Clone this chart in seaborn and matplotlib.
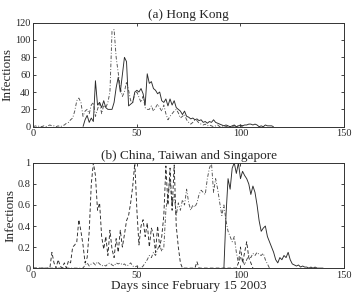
import numpy as np
import pandas as pd
import matplotlib
matplotlib.use("Agg")
import matplotlib.pyplot as plt
import seaborn as sns

# (a) Hong Kong, daily infections (solid line starts on day 24, dash-dot on day 0)
hk_solid_start = 24
hk_solid = [0, 8, 13, 5, 10, 6, 53, 25, 28, 22, 30, 22, 20, 20, 20, 28, 45, 57, 40, 60,
            80, 75, 24, 26, 28, 40, 42, 40, 44, 38, 25, 61, 50, 52, 44, 42, 38, 40, 30, 28,
            32, 24, 32, 25, 30, 22, 20, 18, 14, 18, 12, 11, 9, 10, 8, 9, 7, 8, 5, 6,
            4, 6, 5, 8, 5, 4, 3, 2, 1, 2, 1, 0, 1, 2, 0, 1, 2, 1, 2, 2,
            3, 3, 2, 3, 2, 0, 1, 0, 2, 1, 1, 1, 0]
hk_dashdot = [0, 1, 0, 1, 0, 1, 0, 1, 2, 1, 1, 0, 1, 0, 1, 2, 4, 5, 8, 10,
              18, 30, 33, 28, 12, 18, 20, 15, 25, 28, 12, 20, 28, 15, 25, 22, 28, 40, 110, 112,
              80, 62, 45, 35, 40, 52, 42, 30, 28, 38, 40, 34, 28, 35, 22, 20, 20, 24, 18, 22,
              26, 22, 18, 25, 15, 8, 12, 15, 18, 20, 16, 10, 12, 14, 8, 5, 3, 5, 8, 7,
              4, 3, 2, 3, 1, 2, 1, 0, 1, 2, 0, 1, 0, 0, 1, 0, 0, 1, 0, 1,
              0, 1, 0]

# (b) China, Taiwan and Singapore, normalised infections (all start on day 0)
cts_dashed = [0, 0, 0, 0, 0, 0, 0, 0, 0, 0.15, 0.05, 0, 0.08, 0.02, 0, 0.05, 0, 0.07, 0.05, 0.2,
              0.22, 0.25, 0.46, 0.35, 0.22, 0.05, 0.1, 0.35, 0.8, 1.0, 0.88, 0.55, 0.62, 0.3, 0.18, 0.3,
              0.12, 0.36, 0.18, 0.1, 0.28, 0.15, 0.36, 0.2, 0.32, 0.45, 0.5, 0.62, 0.78, 1.0, 0.55, 0.22,
              0.4, 0.46, 0.3, 0.43, 0.2, 0.38, 0.32, 0.15, 0.4, 0.2, 0.3, 0.5, 0.97, 0.6, 0.95, 0.55,
              0.98, 0.4, 0.2, 0.05, 0, 0, 0, 0, 0, 0, 0, 0.06, 0, 0, 0, 0, 0, 0, 0, 0, 0, 0,
              0, 0, 0, 0, 0, 0, 0, 0, 0, 0.05, 0.2, 0.05, 0.15, 0.25, 0.1, 0.05, 0]
cts_dashdot = [0] * 25 + [
    0.03, 0.05, 0.02, 0.04, 0.05, 0.03, 0.06, 0.04, 0.02, 0.03, 0.02, 0.04, 0.05, 0.03, 0.02,
    0.05, 0.04, 0.05, 0.03, 0.04, 0.02, 0.03, 0.05, 0.02, 0.01, 0.02, 0, 0, 0.02, 0.05,
    0.08, 0.12, 0.1, 0.15, 0.12, 0.18, 0.22, 0.16, 0.2, 0.55, 0.7, 0.85, 0.6, 0.7, 0.5,
    0.62, 0.55, 0.65, 0.6, 0.75, 0.62, 0.55, 0.6, 0.58, 0.62, 0.7, 0.74, 0.72, 0.7, 0.85,
    0.95, 1.0, 0.72, 0.85, 0.75, 0.62, 0.5, 0.6, 0.45, 0.35, 0.3, 0.25, 0.3, 0.15, 0.05,
    0.1, 0.08, 0.03, 0.08, 0.12, 0.1, 0.14, 0.12, 0.15, 0.13, 0.12, 0.14, 0.08, 0.04, 0]
cts_solid_start = 92
cts_solid = [0, 0.5, 0.85, 0.75, 0.95, 1.0, 0.9, 1.0, 0.85, 0.92, 0.88, 0.85, 0.8, 0.7, 0.78,
             0.72, 0.6, 0.45, 0.35, 0.38, 0.4, 0.3, 0.25, 0.2, 0.15, 0.08, 0.05, 0.1, 0.08, 0.12,
             0.1, 0.15, 0.08, 0.04, 0.03, 0.02, 0.03, 0.01, 0.02, 0.01, 0.01, 0, 0.01, 0, 0.01,
             0, 0, 0, 0]

x_ticks = [0, 50, 100, 150]


def frame(values, start, name):
    return pd.DataFrame({"day": np.arange(start, start + len(values)),
                         "value": values, "series": name})


top = pd.concat([frame(hk_solid, hk_solid_start, "solid"),
                 frame(hk_dashdot, 0, "dashdot")])
bot = pd.concat([frame(cts_dashed, 0, "dashed"),
                 frame(cts_dashdot, 0, "dashdot"),
                 frame(cts_solid, cts_solid_start, "solid")])

sns.set_style("ticks")
plt.rcParams["font.family"] = ["Liberation Serif", "DejaVu Serif"]
plt.rcParams["xtick.direction"] = "in"
plt.rcParams["ytick.direction"] = "in"
plt.rcParams["xtick.top"] = True
plt.rcParams["ytick.right"] = True

styles = {"solid": (0, ()), "dashed": (0, (4, 2.5)), "dashdot": (0, (4, 2, 1, 2))}
colors = {"solid": "#2a2a2a", "dashed": "#2a2a2a", "dashdot": "#505050"}

fig = plt.figure(figsize=(3.54, 2.94), dpi=100)
ax1 = fig.add_axes([0.094, 0.569, 0.878, 0.354])
ax2 = fig.add_axes([0.094, 0.088, 0.878, 0.358])

for ax, df in [(ax1, top), (ax2, bot)]:
    for name, sub in df.groupby("series"):
        sns.lineplot(data=sub, x="day", y="value", ax=ax, color=colors[name],
                     linewidth=0.65, linestyle=styles[name], legend=False)
    ax.set_xlim(0, 150)
    ax.set_xticks(x_ticks)
    ax.set_ylabel("Infections", fontsize=9.5, labelpad=1)
    ax.tick_params(labelsize=7.5, length=2.5, width=0.6, pad=2)
    for s in ax.spines.values():
        s.set_linewidth(0.7)
        s.set_color("#333333")

ax1.set_ylim(0, 120)
ax1.set_yticks([0, 20, 40, 60, 80, 100, 120])
ax1.set_xlabel("")
ax1.set_title("(a) Hong Kong", fontsize=9.5, pad=3)

ax2.set_ylim(0, 1)
ax2.set_yticks([0, 0.2, 0.4, 0.6, 0.8, 1])
ax2.set_yticklabels(["0", "0.2", "0.4", "0.6", "0.8", "1"])
ax2.set_xlabel("Days since February 15 2003", fontsize=9.5, labelpad=0)
ax2.set_title("(b) China, Taiwan and Singapore", fontsize=9.5, pad=3)

fig.savefig("out.png", dpi=100)
